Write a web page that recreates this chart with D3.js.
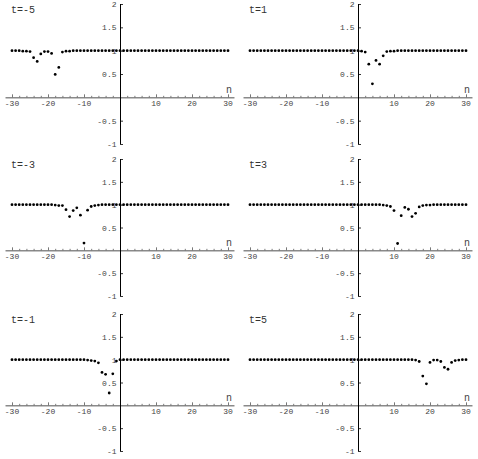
<!DOCTYPE html>
<html>
<head>
<meta charset="utf-8">
<script src="https://cdn.jsdelivr.net/npm/d3@7"></script>
<style>
body { margin: 0; background: #fff; }
</style>
</head>
<body>
<svg id="chart" width="478" height="459"></svg>
<script>
// n = -30 .. 30
var nValues = [-30,-29,-28,-27,-26,-25,-24,-23,-22,-21,
               -20,-19,-18,-17,-16,-15,-14,-13,-12,-11,
               -10,-9,-8,-7,-6,-5,-4,-3,-2,-1,
               0,1,2,3,4,5,6,7,8,9,
               10,11,12,13,14,15,16,17,18,19,
               20,21,22,23,24,25,26,27,28,29,
               30];

var panelTitles = ["t=-5", "t=1", "t=-3", "t=3", "t=-1", "t=5"];

var valuesTm5 = [1,1,1,0.99,0.99,0.98,0.85,0.77,0.93,0.98,
                 0.98,0.94,0.49,0.64,0.97,0.99,0.99,1,1,1,
                 1,1,1,1,1,1,1,1,1,1,
                 1,1,1,1,1,1,1,1,1,1,
                 1,1,1,1,1,1,1,1,1,1,
                 1,1,1,1,1,1,1,1,1,1,
                 1];
var valuesT1 = [1,1,1,1,1,1,1,1,1,1,
                1,1,1,1,1,1,1,1,1,1,
                1,1,1,1,1,1,1,1,1,1,
                1,0.99,0.97,0.71,0.29,0.79,0.71,0.89,0.98,0.99,
                0.99,1,1,1,1,1,1,1,1,1,
                1,1,1,1,1,1,1,1,1,1,
                1];
var valuesTm3 = [1,1,1,1,1,1,1,1,1,1,
                 1,1,0.99,0.98,0.98,0.89,0.74,0.87,0.93,0.77,
                 0.16,0.88,0.96,0.98,0.99,1,1,1,1,1,
                 1,1,1,1,1,1,1,1,1,1,
                 1,1,1,1,1,1,1,1,1,1,
                 1,1,1,1,1,1,1,1,1,1,
                 1];
var valuesT3 = [1,1,1,1,1,1,1,1,1,1,
                1,1,1,1,1,1,1,1,1,1,
                1,1,1,1,1,1,1,1,1,1,
                1,1,1,1,1,1,1,0.99,0.98,0.96,
                0.87,0.15,0.76,0.94,0.90,0.74,0.81,0.95,0.98,0.99,
                0.99,1,1,1,1,1,1,1,1,1,
                1];
var valuesTm1 = [1,1,1,1,1,1,1,1,1,1,
                 1,1,1,1,1,1,1,1,1,1,
                 1,0.99,0.98,0.97,0.93,0.72,0.68,0.27,0.69,0.97,
                 1,1,1,1,1,1,1,1,1,1,
                 1,1,1,1,1,1,1,1,1,1,
                 1,1,1,1,1,1,1,1,1,1,
                 1];
var valuesT5 = [1,1,1,1,1,1,1,1,1,1,
                1,1,1,1,1,1,1,1,1,1,
                1,1,1,1,1,1,1,1,1,1,
                1,1,1,1,1,1,1,1,1,1,
                1,1,1,1,1,1,0.99,0.96,0.64,0.47,
                0.94,0.99,0.99,0.96,0.83,0.79,0.94,0.98,0.99,1,
                1];

var panelValues = [valuesTm5, valuesT1, valuesTm3, valuesT3, valuesTm1, valuesT5];

var xTickLabels = [-30, -20, -10, 10, 20, 30];
var yTickLabels = [2, 1.5, 1, 0.5, -0.5, -1];

// layout
var colLeft = [12, 250];
var rowTop = [4, 159, 314];
var rowBottom = [144, 296, 451];

var svg = d3.select("#chart");
var mono = "'Liberation Mono', 'DejaVu Sans Mono', monospace";

panelValues.forEach(function(values, i) {
    var col = i % 2, row = Math.floor(i / 2);

    var x = d3.scaleLinear().domain([-30, 30]).range([colLeft[col], colLeft[col] + 216]);
    var y = d3.scaleLinear().domain([-1, 2]).range([rowBottom[row], rowTop[row]]);

    var g = svg.append("g");
    var y0 = y(0);

    // x axis line
    g.append("line")
        .attr("x1", x(-31.8)).attr("x2", x(31.8))
        .attr("y1", y0 + 0.5).attr("y2", y0 + 0.5)
        .attr("stroke", "#8a8a8a").attr("stroke-width", 1.5);

    // x ticks, every 2, bigger every 10
    d3.range(-30, 31, 2).forEach(function(t) {
        if (t == 0) return;
        var len = (t % 10 == 0) ? 3 : 1.5;
        g.append("line")
            .attr("x1", x(t) + 0.5).attr("x2", x(t) + 0.5)
            .attr("y1", y0).attr("y2", y0 - len)
            .attr("stroke", "#555").attr("stroke-width", 0.8);
    });

    g.selectAll(".xl").data(xTickLabels).enter()
        .append("text")
        .attr("x", function(d) { return x(d); })
        .attr("y", y0 + 9)
        .attr("text-anchor", "middle")
        .attr("font-family", mono)
        .attr("font-size", "8px")
        .attr("fill", "#444")
        .text(function(d) { return d; });

    // y axis
    g.append("line")
        .attr("x1", x(0) + 0.5).attr("x2", x(0) + 0.5)
        .attr("y1", y(2)).attr("y2", y(-1))
        .attr("stroke", "#000").attr("stroke-width", 1);

    g.selectAll(".yt").data(yTickLabels).enter()
        .append("line")
        .attr("x1", x(0)).attr("x2", x(0) + 3)
        .attr("y1", function(d) { return y(d) + 0.5; })
        .attr("y2", function(d) { return y(d) + 0.5; })
        .attr("stroke", "#000").attr("stroke-width", 0.8);

    g.selectAll(".yl").data(yTickLabels).enter()
        .append("text")
        .attr("x", x(0) - 3.5)
        .attr("y", function(d) { return y(d) + 3; })
        .attr("text-anchor", "end")
        .attr("font-family", mono)
        .attr("font-size", "8px")
        .attr("fill", "#444")
        .text(function(d) { return d; });

    // n label
    g.append("text")
        .attr("x", x(30) + 1)
        .attr("y", y0 - 4)
        .attr("text-anchor", "middle")
        .attr("font-family", mono)
        .attr("font-size", "10px")
        .attr("fill", "#444")
        .text("n");

    // title
    g.append("text")
        .attr("x", colLeft[col] - 1)
        .attr("y", Math.max(10, rowTop[row] + 8.5))
        .attr("font-family", mono)
        .attr("font-size", "10px")
        .attr("fill", "#333")
        .text(panelTitles[i]);

    // points
    g.selectAll(".pt").data(values).enter()
        .append("circle")
        .attr("cx", function(d, k) { return x(nValues[k]); })
        .attr("cy", function(d) { return y(d); })
        .attr("r", 1.4)
        .attr("fill", "#000");
});
</script>
</body>
</html>
